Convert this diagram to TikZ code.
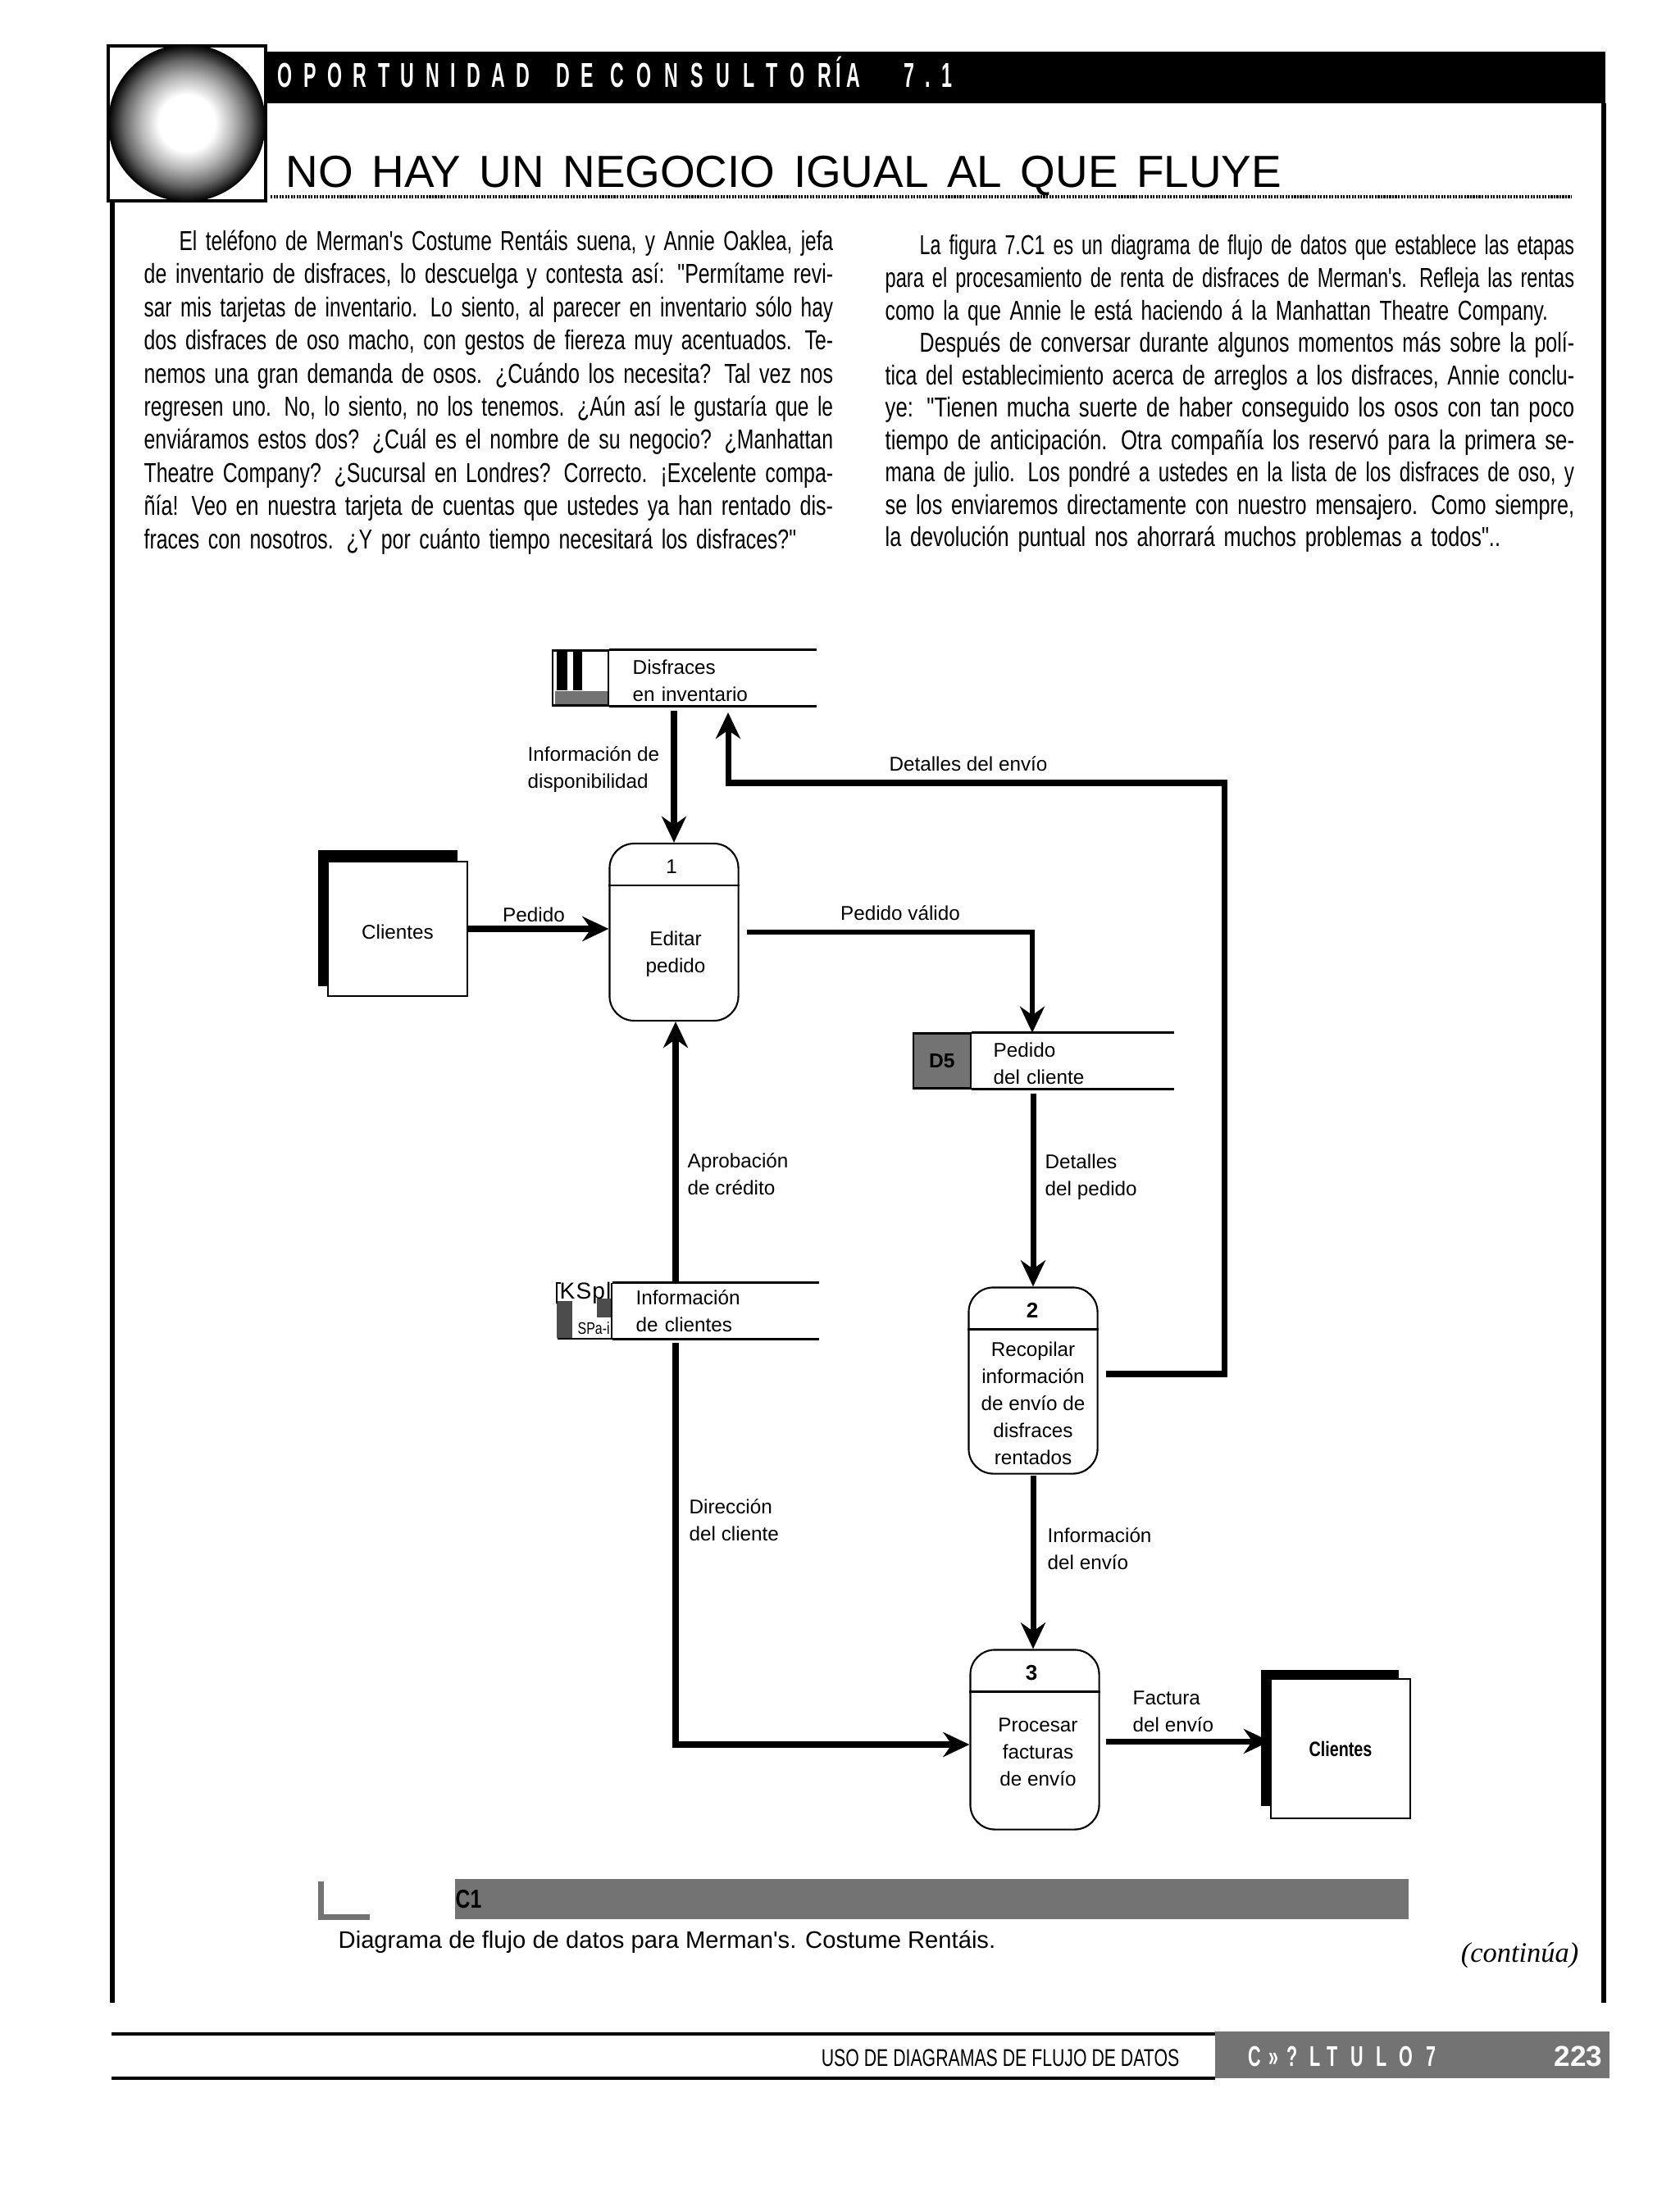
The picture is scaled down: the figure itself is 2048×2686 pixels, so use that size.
\documentclass[tikz,border=0pt]{standalone}
\usepackage{fontspec}
\setmainfont{Liberation Sans}
\newfontfamily\narrowfont[FakeStretch=0.78]{Liberation Sans}
\newfontfamily\rectafont{Liberation Sans}
\newfontfamily\bandfont[FakeStretch=0.55,LetterSpace=32]{Liberation Sans}
\newfontfamily\bandancho[FakeStretch=0.55,LetterSpace=37]{Liberation Sans}
\newfontfamily\footfont[FakeStretch=0.72]{Liberation Sans}
\newfontfamily\capfont[FakeStretch=0.62,LetterSpace=27]{Liberation Sans}
\newfontfamily\kspfont[LetterSpace=4]{Liberation Sans}
\newfontfamily\serifit{Liberation Serif}
\usetikzlibrary{arrows.meta, positioning}
\colorlet{trama}{black!55}
\pgfdeclareradialshading{globo}{\pgfpoint{0bp}{0bp}}{color(0bp)=(white); color(9bp)=(white); color(15bp)=(black!30); color(20bp)=(black!60); color(25bp)=(black); color(50bp)=(black)}
\newcommand{\renglon}[2][0cm]{\hbox to 8.4cm{\hspace*{#1}\resizebox{\dimexpr8.4cm-#1\relax}{\height}{#2}}}
\newcommand{\renglonfin}[2]{\hbox to 8.4cm{\resizebox{#1}{\height}{#2}\hfil}}
\tikzset{
    etiqueta/.style={inner sep=0pt, align=left, font=\fontsize{6.9}{9.4}\selectfont},
    cuerpo/.style={inner sep=0pt, anchor=north west, text width=8.4cm, font=\narrowfont\fontsize{9.5}{11.5}\selectfont},
    proceso/.style={draw, rectangle, rounded corners=0.3cm, line width=0.6pt, fill=white, minimum width=1.57cm, inner sep=0pt},
    entidad/.style={draw, rectangle, line width=0.6pt, fill=white, inner sep=0pt, font=\fontsize{6.9}{9.4}\selectfont},
    sombra/.style={fill=black, rectangle, inner sep=0pt},
    almacen/.style={rectangle, inner ysep=0pt, minimum height=0.67cm, inner xsep=0.28cm, align=left, font=\fontsize{6.9}{9.4}\selectfont, anchor=west},
    celda/.style={draw, rectangle, line width=0.6pt, inner sep=0pt, minimum height=0.67cm, minimum width=0.68cm, font=\fontsize{6.9}{9.4}\selectfont},
    flujo/.style={-{Stealth[length=0.32cm,width=0.3cm]}, line width=2pt, draw=black},
    trazo/.style={line width=0.8pt, draw=black}
}

\begin{document}
\begin{tikzpicture}[x=0.01cm, y=-0.01cm]
        \useasboundingbox (0,0) rectangle (2048,2686);

        % -----------------------------------------------------------------
        % CABECERA
        % -----------------------------------------------------------------
        \fill[black] (323,63) rectangle (1958,126);
        \draw[line width=1.7pt] (137,245) -- (137,2443);
        \draw[line width=1.7pt] (1956,126) -- (1956,2443);
        \draw[line width=1pt, fill=white] (132,56) rectangle (324,245);
        \shade[shading=globo] (228,150) circle (96);
        \node[inner sep=0pt, anchor=base west, text=white, font=\bandfont\bfseries\fontsize{12}{14}\selectfont] (banda) at (338,107) {OPORTUNIDAD\hspace{0.12cm} DE {\bandancho\bfseries CONSULTOR\hspace{0.06cm}Í\hspace{0.06cm}A}\hspace{0.33cm} 7.1};
        \node[inner sep=0pt, anchor=base west, font=\fontsize{15.6}{18}\selectfont] (titulo) at (348,229) {\spaceskip=6.4pt NO HAY UN NEGOCIO IGUAL AL QUE FLUYE};
        \draw[line width=0.9pt, dash pattern=on 0.6pt off 0.4pt] (330,240) -- (1917,240);

        % -----------------------------------------------------------------
        % TEXTO EN DOS COLUMNAS
        % -----------------------------------------------------------------
        \node[cuerpo] (colA) at (175,280) {
\renglon[0.43cm]{El teléfono de Merman's Costume Rentáis suena, y Annie Oaklea, jefa}
\renglon{de inventario de disfraces, lo descuelga y contesta así: "Permítame revi-}
\renglon{sar mis tarjetas de inventario. Lo siento, al parecer en inventario sólo hay}
\renglon{dos disfraces de oso macho, con gestos de fiereza muy acentuados. Te-}
\renglon{nemos una gran demanda de osos. ¿Cuándo los necesita? Tal vez nos}
\renglon{regresen uno. No, lo siento, no los tenemos. ¿Aún así le gustaría que le}
\renglon{enviáramos estos dos? ¿Cuál es el nombre de su negocio? ¿Manhattan}
\renglon{Theatre Company? ¿Sucursal en Londres? Correcto. ¡Excelente compa-}
\renglon{ñía! Veo en nuestra tarjeta de cuentas que ustedes ya han rentado dis-}
\renglonfin{7.95cm}{fraces con nosotros. ¿Y por cuánto tiempo necesitará los disfraces?"}};
        \node[cuerpo, font=\narrowfont\fontsize{9.5}{11.25}\selectfont] (colB) at (1079,286) {
\renglon[0.42cm]{La figura 7.C1 es un diagrama de flujo de datos que establece las etapas}
\renglon{para el procesamiento de renta de disfraces de Merman's. Refleja las rentas}
\renglonfin{8.08cm}{como la que Annie le está haciendo á la Manhattan Theatre Company.}
\renglon[0.42cm]{Después de conversar durante algunos momentos más sobre la polí-}
\renglon{tica del establecimiento acerca de arreglos a los disfraces, Annie conclu-}
\renglon{ye: "Tienen mucha suerte de haber conseguido los osos con tan poco}
\renglon{tiempo de anticipación. Otra compañía los reservó para la primera se-}
\renglon{mana de julio. Los pondré a ustedes en la lista de los disfraces de oso, y}
\renglon{se los enviaremos directamente con nuestro mensajero. Como siempre,}
\renglonfin{7.5cm}{la devolución puntual nos ahorrará muchos problemas a todos"..}};

        % -----------------------------------------------------------------
        % ENTIDADES
        % -----------------------------------------------------------------
        \node[sombra, minimum width=1.70cm, minimum height=1.65cm] (sombraA) at (473,1120) {};
        \node[entidad, minimum width=1.70cm, minimum height=1.64cm] (clientesA) at (485,1133) {\rule{0pt}{6.9pt}Clientes};
        \node[sombra, minimum width=1.67cm, minimum height=1.65cm] (sombraB) at (1622,2120) {};
        \node[entidad, minimum width=1.70cm, minimum height=1.70cm, font=\bfseries\narrowfont\fontsize{7.2}{9.4}\selectfont] (clientesB) at (1635,2133) {Clientes};

        % -----------------------------------------------------------------
        % PROCESOS
        % -----------------------------------------------------------------
        \node[proceso, minimum height=2.16cm] (editar) at (822,1137) {};
        \node[proceso, minimum height=2.27cm] (recopilar) at (1260,1684) {};
        \node[proceso, minimum height=2.19cm] (facturas) at (1262,2122) {};
        \draw[line width=0.7pt] ([yshift=-0.52cm]editar.north west) -- ([yshift=-0.52cm]editar.north east);
        \draw[line width=0.7pt] ([yshift=-0.52cm]recopilar.north west) -- ([yshift=-0.52cm]recopilar.north east);
        \draw[line width=0.9pt] ([yshift=-0.52cm]facturas.north west) -- ([yshift=-0.52cm]facturas.north east);
        \node[etiqueta] (numEditar) at (819,1057) {1};
        \node[etiqueta, font=\bfseries\fontsize{7.4}{9.4}\selectfont] (numRecopilar) at (1259,1598) {2};
        \node[etiqueta, font=\bfseries\fontsize{7.4}{9.4}\selectfont] (numFacturas) at (1258,2041) {3};
        \node[etiqueta, align=center] (txtEditar) at (824,1164) {Editar\\pedido};
        \node[etiqueta, align=center] (txtRecopilar) at (1260,1712) {Recopilar\\información\\de envío de\\disfraces\\rentados};
        \node[etiqueta, align=center] (txtFacturas) at (1266,2137) {Procesar\\facturas\\de envío};

        % -----------------------------------------------------------------
        % ALMACENES DE DATOS
        % -----------------------------------------------------------------
        \node[almacen, text width=1.95cm] (disfraces) at (743,827) {\rule{0pt}{6.9pt}Disfraces\\en inventario};
        \node[almacen, text width=1.93cm, inner xsep=0.26cm] (pedidoCli) at (1185,1294) {\rule{0pt}{6.9pt}Pedido\\del cliente};
        \node[almacen, text width=1.94cm] (infoCli) at (747,1599) {Información\\de clientes};
        \foreach \nombre in {disfraces,pedidoCli,infoCli} {
            \draw[trazo] (\nombre.north west) -- (\nombre.north east);
            \draw[trazo] (\nombre.south west) -- (\nombre.south east);
        }
        \node[celda, left=0pt of disfraces] (idDisfraces) {};
        \node[celda, left=0pt of pedidoCli, minimum width=0.70cm, fill=trama, text=black, font=\bfseries\fontsize{7}{9}\selectfont] (idPedido) {D5};
        \node[celda, left=0pt of infoCli, draw=none] (idInfo) {};
        \fill (679,795) rectangle (692,842);
        \fill (699,795) rectangle (710,842);
        \fill[trama] (677,843) rectangle (741,859);
        \fill[black!70] (679,1587) rectangle (698,1632);
        \fill[black!70] (728,1584) rectangle (746,1607);
        \draw[line width=0.6pt] (679,1590) -- (679,1565) -- (684,1565);
        \draw[line width=0.6pt] (746,1565) -- (746,1633) -- (680,1633);
        \node[inner sep=0pt, anchor=west, font=\kspfont\fontsize{8}{9}\selectfont] (txtKsp) at (682,1577) {KSpl};
        \node[inner sep=0pt, anchor=west, font=\narrowfont\fontsize{5.8}{8}\selectfont] (txtSpa) at (704,1620) {SPa-i};

        % -----------------------------------------------------------------
        % FLUJOS
        % -----------------------------------------------------------------
        \draw[flujo, shorten <=0.06cm] (disfraces.south -| editar) -- (editar.north);
        \draw[flujo] (clientesA.east) -- (clientesA.east -| editar.west);
        \draw[flujo, line width=1.8pt, shorten <=0.09cm] (editar.east) -| (pedidoCli.north -| 1259,0);
        \draw[flujo, shorten <=0.06cm] (pedidoCli.south -| 1260,0) -- (recopilar.north);
        \draw[flujo, shorten <=0.09cm] (recopilar.east |- 0,1676) -| (1493,955) -| (888,869);
        \draw[flujo, line width=2.2pt] (infoCli.north -| 824,0) -- (editar.south -| 824,0);
        \draw[flujo, line width=2.2pt, shorten <=0.05cm] (infoCli.south -| 824,0) |- (facturas.west |- 0,2128);
        \draw[flujo, shorten <=0.01cm] (recopilar.south) -- (facturas.north -| recopilar.south);
        \draw[flujo, shorten <=0.07cm] (facturas.east |- 0,2124) -- (clientesB.west |- 0,2124);

        \node[etiqueta, anchor=west] (lblDisp) at (643,939) {Información de\\disponibilidad};
        \node[etiqueta] (lblPedido) at (651,1116) {Pedido};
        \node[etiqueta] (lblValido) at (1098,1114) {Pedido válido};
        \node[etiqueta] (lblEnvio) at (1181,932) {Detalles del envío};
        \node[etiqueta, anchor=west] (lblAprob) at (838,1432) {Aprobación\\de crédito};
        \node[etiqueta, anchor=west] (lblDetalles) at (1274,1436) {Detalles\\del pedido};
        \node[etiqueta, anchor=west] (lblDir) at (840,1854) {Dirección\\del cliente};
        \node[etiqueta, anchor=west] (lblInfo) at (1277,1889) {Información\\del envío};
        \node[etiqueta, anchor=west] (lblFactura) at (1381,2088) {Factura\\del envío};

        % -----------------------------------------------------------------
        % PIE DE FIGURA
        % -----------------------------------------------------------------
        \fill[trama] (388,2295) rectangle (395,2342);
        \fill[trama] (388,2335) rectangle (451,2342);
        \fill[trama] (555,2292) rectangle (1718,2341);
        \node[inner sep=0pt, anchor=west, font=\bfseries\narrowfont\fontsize{9}{10}\selectfont] (figura) at (555,2317) {C1};
        \node[inner sep=0pt, anchor=west, font=\rectafont\fontsize{8.3}{10}\selectfont] (leyenda) at (412,2369) {Diagrama de flujo de datos para Merman's. Costume Rentáis.};
        \node[inner sep=0pt, anchor=east, font=\serifit\itshape\fontsize{9.8}{12}\selectfont] (sigue) at (1926,2385) {(continúa)};

        % -----------------------------------------------------------------
        % PIE DE PAGINA
        % -----------------------------------------------------------------
        \draw[line width=0.9pt] (136,2481) -- (1482,2481);
        \draw[line width=0.9pt] (136,2535) -- (1482,2535);
        \fill[trama] (1482,2478) rectangle (1963,2535);
        \node[inner sep=0pt, anchor=east, font=\footfont\fontsize{8.4}{10}\selectfont] (rodape) at (1439,2510) {USO DE DIAGRAMAS DE FLUJO DE DATOS};
        \node[inner sep=0pt, anchor=west, text=white, font=\bfseries\capfont\fontsize{9.9}{11}\selectfont] (capitulo) at (1522,2508) {C»? LT U L O 7};
        \node[inner sep=0pt, anchor=east, text=white, font=\bfseries\fontsize{10}{11}\selectfont] (pagina) at (1955,2508) {223};

\end{tikzpicture}
\end{document}
